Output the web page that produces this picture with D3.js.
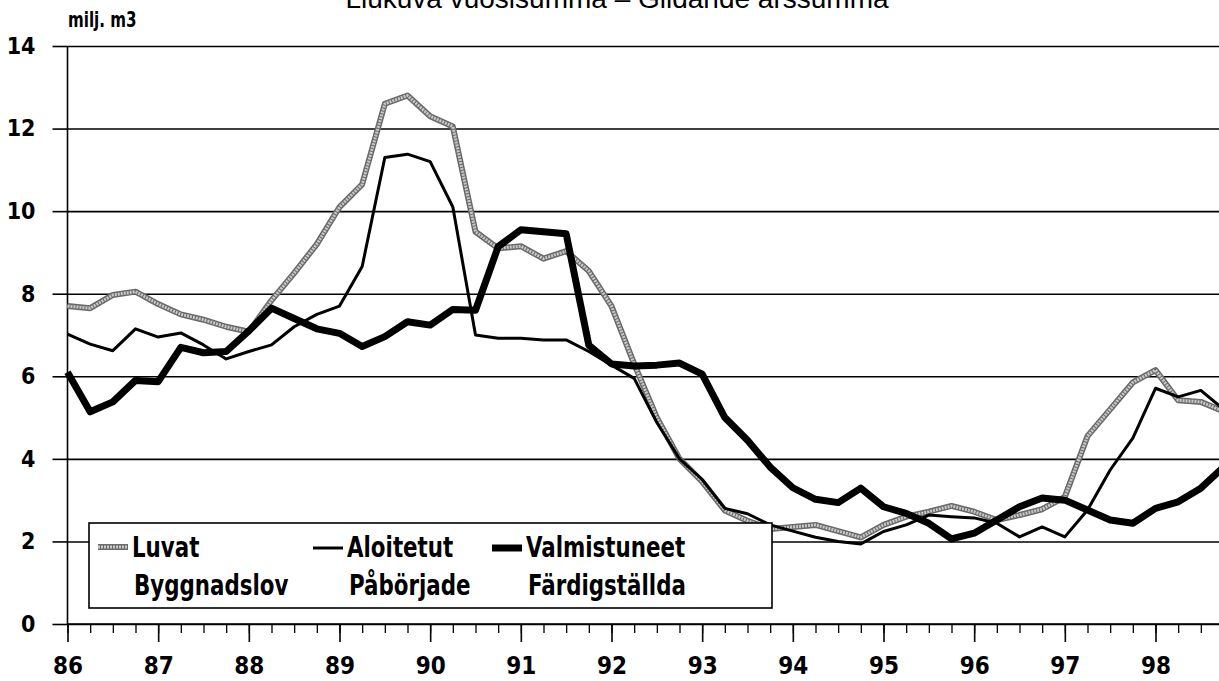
<!DOCTYPE html>
<html>
<head>
<meta charset="utf-8">
<script src="https://cdn.jsdelivr.net/npm/d3@7/dist/d3.min.js"></script>
<style>
    body { margin: 0; background: #fff; }
    svg { display: block; }
    .narrow { font-family: 'Liberation Sans Narrow', 'Arial Narrow', 'DejaVu Sans Condensed', sans-serif; font-weight: bold; }
</style>
</head>
<body>
<div id="plot1"></div>
<script>
// quarters 1986Q1 .. 1998Q4
const quarters = [
    '86Q1', '86Q2', '86Q3', '86Q4', '87Q1', '87Q2', '87Q3', '87Q4',
    '88Q1', '88Q2', '88Q3', '88Q4', '89Q1', '89Q2', '89Q3', '89Q4',
    '90Q1', '90Q2', '90Q3', '90Q4', '91Q1', '91Q2', '91Q3', '91Q4',
    '92Q1', '92Q2', '92Q3', '92Q4', '93Q1', '93Q2', '93Q3', '93Q4',
    '94Q1', '94Q2', '94Q3', '94Q4', '95Q1', '95Q2', '95Q3', '95Q4',
    '96Q1', '96Q2', '96Q3', '96Q4', '97Q1', '97Q2', '97Q3', '97Q4',
    '98Q1', '98Q2', '98Q3', '98Q4'
];

// Luvat / Byggnadslov
const luvat = [
    7.70, 7.65, 7.97, 8.05, 7.75, 7.50, 7.37, 7.20,
    7.08, 7.84, 8.50, 9.20, 10.10, 10.65, 12.60, 12.80,
    12.30, 12.05, 9.50, 9.10, 9.15, 8.85, 9.03, 8.55,
    7.70, 6.30, 5.00, 4.00, 3.45, 2.75, 2.50, 2.30,
    2.35, 2.40, 2.25, 2.10, 2.40, 2.60, 2.72, 2.86,
    2.72, 2.52, 2.64, 2.78, 3.08, 4.55, 5.20, 5.85,
    6.15, 5.42, 5.38, 5.15
];

// Aloitetut / Påbörjade
const aloitetut = [
    7.02, 6.78, 6.62, 7.15, 6.95, 7.05, 6.76, 6.42,
    6.60, 6.76, 7.20, 7.50, 7.70, 8.66, 11.30, 11.38,
    11.20, 10.10, 7.00, 6.92, 6.92, 6.88, 6.88, 6.60,
    6.27, 5.95, 4.88, 4.00, 3.50, 2.80, 2.67, 2.40,
    2.25, 2.10, 2.00, 1.94, 2.24, 2.40, 2.64, 2.60,
    2.57, 2.44, 2.11, 2.35, 2.11, 2.76, 3.73, 4.50,
    5.71, 5.50, 5.66, 5.20
];

// Valmistuneet / Färdigställda
const valmistuneet = [
    6.10, 5.14, 5.38, 5.90, 5.87, 6.70, 6.57, 6.60,
    7.10, 7.65, 7.40, 7.15, 7.04, 6.72, 6.96, 7.32,
    7.24, 7.62, 7.60, 9.14, 9.55, 9.50, 9.45, 6.75,
    6.30, 6.25, 6.27, 6.32, 6.05, 5.00, 4.45, 3.80,
    3.30, 3.02, 2.94, 3.29, 2.84, 2.68, 2.44, 2.06,
    2.20, 2.52, 2.84, 3.05, 3.00, 2.76, 2.52, 2.44,
    2.80, 2.96, 3.29, 3.80
];

const yearLabels = ['86', '87', '88', '89', '90', '91', '92', '93', '94', '95', '96', '97', '98'];
const yTicks = [0, 2, 4, 6, 8, 10, 12, 14];
const legendFi = ['Luvat', 'Aloitetut', 'Valmistuneet'];
const legendSv = ['Byggnadslov', 'Påbörjade', 'Färdigställda'];

const title = 'Liukuva vuosisumma  –  Glidande årssumma';
const unitLabel = 'milj. m3';

let svgWidth = 1219;
let svgHeight = 681;

// horizontal squeeze so the condensed fallback font looks like the original narrow face
let squeeze = 0.82;

let svg = d3.select('#plot1')
    .append('svg')
    .attr('width', svgWidth)
    .attr('height', svgHeight);

// "86Q3" -> 86.5
let qx = q => +q.slice(0, 2) + (+q.slice(3) - 1) / 4;

let xs = d3.scaleLinear()
    .domain([86, 98.75])
    .range([67.5, 1223.5]);
let ys = d3.scaleLinear()
    .domain([0, 14])
    .range([624, 46]);

// gridlines
svg.append('g')
    .attr('class', 'grid')
    .attr('transform', 'translate(' + xs(86) + ',0)')
    .call(d3.axisLeft(ys).tickValues(yTicks).tickSize(-(svgWidth - xs(86))).tickFormat(''))
    .call(g => g.select('.domain').remove())
    .call(g => g.selectAll('line').attr('stroke', '#000').attr('stroke-width', 1.6));

// y axis
svg.append('g')
    .attr('class', 'y axis narrow')
    .attr('transform', 'translate(' + xs(86) + ',0)')
    .call(d3.axisLeft(ys).tickValues(yTicks).tickSize(15).tickPadding(17).tickFormat(d3.format('d')))
    .call(g => g.select('.domain').attr('stroke-width', 1.6).attr('d', 'M0,' + ys(14) + 'V' + ys(0)))
    .call(g => g.selectAll('line').attr('stroke-width', 1.6))
    .call(g => g.selectAll('text').style('font-size', '23px').attr('fill', '#000'));

// x axis, quarterly minor ticks
svg.append('g')
    .attr('class', 'x axis minor')
    .attr('transform', 'translate(0,' + ys(0) + ')')
    .call(d3.axisBottom(xs).tickValues(quarters.map(qx)).tickSize(9).tickFormat(''))
    .call(g => g.select('.domain').attr('stroke-width', 1.6).attr('d', 'M' + xs(86) + ',0H' + svgWidth))
    .call(g => g.selectAll('line').attr('stroke-width', 1.3));

// x axis, years
svg.append('g')
    .attr('class', 'x axis narrow')
    .attr('transform', 'translate(0,' + ys(0) + ')')
    .call(d3.axisBottom(xs).tickValues(yearLabels.map(d => +d)).tickSize(18).tickPadding(15).tickFormat(d => d))
    .call(g => g.select('.domain').remove())
    .call(g => g.selectAll('line').attr('stroke-width', 1.6))
    .call(g => g.selectAll('text').style('font-size', '24px').attr('fill', '#000'));

const lineGenerator = data => d3.line()
    .x((d, i) => xs(qx(quarters[i])))
    .y(d => ys(d))(data);

let lines = svg.append('g').attr('class', 'lines');

// Luvat: grey hatched band
lines.append('path')
    .attr('d', lineGenerator(luvat))
    .style('fill', 'none')
    .style('stroke', '#6a6a6a')
    .style('stroke-width', '6px')
    .style('stroke-linejoin', 'round');
lines.append('path')
    .attr('d', lineGenerator(luvat))
    .style('fill', 'none')
    .style('stroke', '#c8c8c8')
    .style('stroke-width', '3px')
    .style('stroke-dasharray', '2 1')
    .style('stroke-linejoin', 'round');

lines.append('path')
    .attr('d', lineGenerator(aloitetut))
    .style('fill', 'none')
    .style('stroke', '#000')
    .style('stroke-width', '3px')
    .style('stroke-linejoin', 'round');

lines.append('path')
    .attr('d', lineGenerator(valmistuneet))
    .style('fill', 'none')
    .style('stroke', '#000')
    .style('stroke-width', '7px')
    .style('stroke-linejoin', 'round');

// title, cut by the top edge
svg.append('text')
    .attr('x', 617)
    .attr('y', 8)
    .style('font-family', "'Liberation Sans', Arial, sans-serif")
    .style('font-size', '28px')
    .style('text-anchor', 'middle')
    .text(title);

svg.append('text')
    .attr('class', 'narrow')
    .attr('transform', 'translate(68,27) scale(0.8,1)')
    .style('font-size', '21px')
    .text(unitLabel);

// legend
let legend = svg.append('g').attr('class', 'legend narrow');
legend.append('rect')
    .attr('x', 89)
    .attr('y', 523)
    .attr('width', 683)
    .attr('height', 85)
    .style('fill', '#fff')
    .style('stroke', '#000')
    .style('stroke-width', '1.6px');

let itemX = [98, 313, 492];
legendFi.forEach((name, i) => {
    let g = legend.append('g').attr('transform', 'translate(' + itemX[i] + ',0)');
    if (i === 0) {
        g.append('line').attr('x1', 0).attr('x2', 30).attr('y1', 547).attr('y2', 547)
            .style('stroke', '#6a6a6a').style('stroke-width', '6px');
        g.append('line').attr('x1', 0).attr('x2', 30).attr('y1', 547).attr('y2', 547)
            .style('stroke', '#c8c8c8').style('stroke-width', '3px').style('stroke-dasharray', '2 1');
    } else {
        g.append('line').attr('x1', 0).attr('x2', 30).attr('y1', 548).attr('y2', 548)
            .style('stroke', '#000').style('stroke-width', i === 1 ? '3px' : '7px');
    }
    g.append('text')
        .attr('transform', 'translate(34,557) scale(' + squeeze + ',1)')
        .style('font-size', '29px')
        .text(name);
    g.append('text')
        .attr('transform', 'translate(36,595) scale(' + squeeze + ',1)')
        .style('font-size', '29px')
        .text(legendSv[i]);
});
</script>
</body>
</html>
